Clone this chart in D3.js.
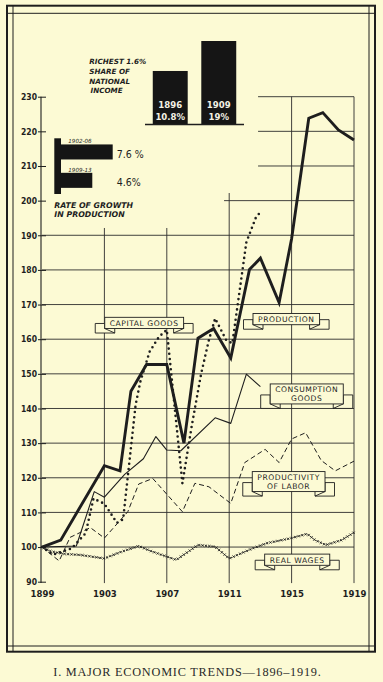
<!DOCTYPE html>
<html><head><meta charset="utf-8">
<script src="https://cdn.jsdelivr.net/npm/d3@7"></script>
<style>
html,body{margin:0;padding:0;background:#fcfad4;}
svg{display:block;}
</style></head><body>
<svg id="c" width="383" height="682"></svg>
<script>
// ---------- DATA ----------
const productionYears = [1899, 1900.2, 1903, 1904, 1904.7, 1905.7, 1907, 1908.1, 1909, 1910, 1911.1, 1912.3, 1913, 1914.2, 1915, 1916.1, 1917, 1918, 1919];
const productionValues = [100, 102, 123.5, 122, 145, 152.7, 152.7, 130, 160.3, 163.1, 154.6, 180.1, 183.4, 170.6, 189, 223.8, 225.4, 220.4, 217.5];

const capitalYears = [1899, 1899.7, 1900.9, 1901.8, 1902.3, 1903, 1903.8, 1904.2, 1905, 1905.3, 1905.9, 1906.5, 1907, 1908, 1908.6, 1909.2, 1909.7, 1910.1, 1910.8, 1911.2, 1912.1, 1912.7, 1913.1];
const capitalValues = [100, 97.8, 99.6, 104, 114, 112.5, 107, 108, 141, 147.7, 156.4, 160.7, 162.7, 118.4, 135, 150, 159.8, 166, 159.8, 158.8, 188, 195, 197.3];

const consumptionYears = [1899, 1901.2, 1902.35, 1903, 1904.3, 1905.5, 1906.3, 1907, 1907.9, 1910.1, 1911.1, 1912.1, 1913];
const consumptionValues = [100, 100.3, 116, 114.4, 121, 125.5, 131.9, 128, 127.8, 137.3, 135.7, 149.9, 146.3];

const productivityYears = [1899, 1900.1, 1900.8, 1902.1, 1903, 1904.5, 1905.2, 1906.1, 1908, 1908.8, 1909.7, 1911.1, 1912, 1913.3, 1914.2, 1915, 1915.9, 1916.9, 1917.8, 1919];
const productivityValues = [100, 96, 102.8, 105.6, 102.6, 110.2, 118.2, 119.8, 110.2, 118.4, 117.4, 112.6, 124.4, 128.2, 124.4, 131.2, 133, 125, 122, 124.8];

const wagesYears = [1899, 1899.6, 1900.5, 1901.5, 1903, 1904, 1905.2, 1906, 1906.7, 1907.6, 1909, 1910.1, 1911, 1912.5, 1913.4, 1914.9, 1916, 1916.5, 1917.2, 1918.2, 1919];
const wagesValues = [100, 98.7, 98, 97.7, 96.7, 98.5, 100.3, 98.8, 97.7, 96.3, 100.6, 100.1, 96.7, 99.6, 101.1, 102.5, 103.8, 102, 100.6, 102, 104.2];

const yTicks = [90, 100, 110, 120, 130, 140, 150, 160, 170, 180, 190, 200, 210, 220, 230];
const xTicks = [1899, 1903, 1907, 1911, 1915, 1919];

const shareYears = ["1896", "1909"];
const shareValues = [10.8, 19];
const shareLabels = ["10.8%", "19%"];

const growthPeriods = ["1902-06", "1909-13"];
const growthValues = [7.6, 4.6];
const growthLabels = ["7.6 %", "4.6%"];

const seriesLabels = [
  {lines: ["CAPITAL GOODS"], year: 1905.55, value: 164.7},
  {lines: ["PRODUCTION"], year: 1914.66, value: 165.8},
  {lines: ["CONSUMPTION", "GOODS"], year: 1915.97, value: 144.2},
  {lines: ["PRODUCTIVITY", "OF LABOR"], year: 1914.81, value: 118.9},
  {lines: ["REAL WAGES"], year: 1915.36, value: 96.35}
];
const captionText = "I.  MAJOR ECONOMIC TRENDS\u20141896\u20131919.";

// ---------- DRAWING ----------
const ink = "#1e1e1e";
const bg = "#fcfad4";
const svg = d3.select("#c");
svg.append("rect").attr("width", 383).attr("height", 682).attr("fill", bg);

// frame
svg.append("rect").attr("x", 7).attr("y", 5.7).attr("width", 368).attr("height", 646)
  .attr("fill", "none").attr("stroke", ink).attr("stroke-width", 2);
const fr = svg.append("g").attr("stroke", ink).attr("stroke-width", 1);
fr.append("line").attr("x1", 7).attr("x2", 375).attr("y1", 13.3).attr("y2", 13.3);
fr.append("line").attr("x1", 7).attr("x2", 375).attr("y1", 646).attr("y2", 646);
fr.append("line").attr("x1", 13).attr("x2", 13).attr("y1", 5.7).attr("y2", 651.7);
fr.append("line").attr("x1", 369).attr("x2", 369).attr("y1", 5.7).attr("y2", 651.7);

const x = d3.scaleLinear().domain([1899, 1919]).range([42, 354]);
const y = d3.scaleLinear().domain([90, 230]).range([581.7, 96.7]);
const yBottom = y(89.6);

// grid
const grid = svg.append("g").attr("stroke", "#2c2c2c").attr("stroke-width", 0.9);
function hStart(v) { return v <= 190 ? 1899 : (v === 200 ? 1910.67 : 1912.85); }
yTicks.filter(v => v >= 100).forEach(v => {
  grid.append("line").attr("x1", x(hStart(v))).attr("x2", x(1919))
    .attr("y1", y(v)).attr("y2", y(v));
});
function vTop(yr) { return yr <= 1907 ? 192.1 : (yr === 1911 ? 202.2 : 230); }
xTicks.filter(t => t > 1899).forEach(t => {
  grid.append("line").attr("x1", x(t)).attr("x2", x(t))
    .attr("y1", y(vTop(t))).attr("y2", yBottom);
});

// y axis
svg.append("line").attr("x1", x(1899) - 1).attr("x2", x(1899) - 1)
  .attr("y1", y(230)).attr("y2", yBottom).attr("stroke", ink).attr("stroke-width", 1.1);
const yAxis = svg.append("g").attr("transform", `translate(${x(1899) - 1},0)`)
  .call(d3.axisLeft(y).tickValues(yTicks).tickSizeInner(3).tickSizeOuter(0).tickPadding(1)
    .tickFormat(d3.format("d")));
yAxis.select(".domain").remove();
yAxis.selectAll(".tick line").attr("stroke", ink);
yAxis.selectAll(".tick").append("line").attr("x1", 0).attr("x2", 5).attr("stroke", ink);
yAxis.selectAll("text").attr("fill", ink)
  .style("font-family", "'Liberation Sans Narrow','DejaVu Sans Condensed','Liberation Sans',sans-serif")
  .style("font-size", "8.5px").style("font-weight", "bold");

const xAxis = svg.append("g").attr("transform", `translate(0,${yBottom})`)
  .call(d3.axisBottom(x).tickValues(xTicks).tickSize(0).tickPadding(7.5).tickFormat(d3.format("d")));
xAxis.select(".domain").remove();
xAxis.selectAll("text").attr("fill", ink)
  .style("font-family", "'Liberation Sans Narrow','DejaVu Sans Condensed','Liberation Sans',sans-serif")
  .style("font-size", "9.5px").style("font-weight", "bold");

// series
const line = d3.line().x(d => x(d[0])).y(d => y(d[1]));
const zip = (a, b) => a.map((v, i) => [v, b[i]]);

// real wages: thin dashed path with small crosses
const wPath = svg.append("path").datum(zip(wagesYears, wagesValues)).attr("d", line)
  .attr("fill", "none").attr("stroke", ink).attr("stroke-width", 0.8).attr("stroke-dasharray", "1.5,1.5");
{
  const node = wPath.node(), L = node.getTotalLength();
  const cg = svg.append("g").attr("stroke", ink).attr("stroke-width", 0.8);
  for (let s = 2; s < L; s += 3.6) {
    const p = node.getPointAtLength(s);
    cg.append("path").attr("d", `M${p.x - 1.2},${p.y - 1.2}L${p.x + 1.2},${p.y + 1.2}M${p.x - 1.2},${p.y + 1.2}L${p.x + 1.2},${p.y - 1.2}`);
  }
}

svg.append("path").datum(zip(productivityYears, productivityValues)).attr("d", line)
  .attr("fill", "none").attr("stroke", ink).attr("stroke-width", 1).attr("stroke-dasharray", "5,3");

svg.append("path").datum(zip(consumptionYears, consumptionValues)).attr("d", line)
  .attr("fill", "none").attr("stroke", ink).attr("stroke-width", 1.1).attr("stroke-linejoin", "round");

svg.append("path").datum(zip(capitalYears, capitalValues)).attr("d", line)
  .attr("fill", "none").attr("stroke", ink).attr("stroke-width", 2.6)
  .attr("stroke-dasharray", "0,5.2").attr("stroke-linecap", "round");

svg.append("path").datum(zip(productionYears, productionValues)).attr("d", line)
  .attr("fill", "none").attr("stroke", ink).attr("stroke-width", 2.9).attr("stroke-linejoin", "miter");

// ribbon labels
const labelFont = "'DejaVu Sans',sans-serif";
seriesLabels.forEach(lb => {
  const g = svg.append("g");
  const fs = 7.6;
  const tmp = g.append("g");
  const texts = lb.lines.map((t, i) => tmp.append("text").text(t)
    .style("font-family", labelFont).style("font-size", fs + "px").style("letter-spacing", "0.55px")
    .attr("fill", ink));
  const tw = d3.max(texts, t => t.node().getComputedTextLength());
  const w = tw + 10, h = lb.lines.length === 1 ? 11.2 : 20;
  const cx = x(lb.year), cy = y(lb.value);
  const x0 = cx - w / 2, x1 = cx + w / 2, y0 = cy - h / 2, y1 = cy + h / 2;
  const a = h * 0.55, tail = 9.5, b = 4.5, f = 10;
  const tails = g.insert("g", ":first-child").attr("fill", bg).attr("stroke", ink).attr("stroke-width", 0.9);
  tails.append("path").attr("d", `M${x0},${y0 + a}H${x0 - tail}V${y1 + b}H${x0 + f}L${x0},${y1}Z`);
  tails.append("path").attr("d", `M${x0 + f},${y1 + b}V${y1}`);
  tails.append("path").attr("d", `M${x1},${y0 + a}H${x1 + tail}V${y1 + b}H${x1 - f}L${x1},${y1}Z`);
  tails.append("path").attr("d", `M${x1 - f},${y1 + b}V${y1}`);
  g.insert("rect", "g:last-child").attr("x", x0).attr("y", y0).attr("width", w).attr("height", h)
    .attr("fill", bg).attr("stroke", ink).attr("stroke-width", 0.9);
  tmp.raise();
  texts.forEach((t, i) => {
    t.attr("x", cx).attr("text-anchor", "middle")
      .attr("y", lb.lines.length === 1 ? cy + 2.8 : cy - 1.8 + i * 9.2);
  });
});

// ---------- inset: richest 1.6% share ----------
const hand = "'DejaVu Sans',sans-serif";
const shareX = d3.scaleBand().domain(shareYears).range([145, 244]).paddingInner(0.28).paddingOuter(0.16);
const shareY = d3.scaleLinear().domain([-3.7, 19]).range([124, 41]);
svg.append("g").selectAll("rect").data(shareYears).join("rect")
  .attr("x", d => shareX(d)).attr("width", shareX.bandwidth())
  .attr("y", (d, i) => shareY(shareValues[i])).attr("height", (d, i) => shareY(-3.7) - shareY(shareValues[i]))
  .attr("fill", "#151515");
svg.append("line").attr("x1", 145).attr("x2", 244).attr("y1", 124.5).attr("y2", 124.5)
  .attr("stroke", ink).attr("stroke-width", 1.4);
shareYears.forEach((d, i) => {
  const cx = shareX(d) + shareX.bandwidth() / 2;
  [d, shareLabels[i]].forEach((t, j) => svg.append("text").text(t)
    .attr("x", cx).attr("y", 108.3 + j * 11.5).attr("text-anchor", "middle")
    .attr("fill", "#f4f1e4").style("font-family", "'Liberation Sans Narrow','DejaVu Sans Condensed',sans-serif")
    .style("font-size", "9.5px").style("font-weight", "bold"));
});
["RICHEST 1.6%", "SHARE OF", "NATIONAL", "INCOME"].forEach((t, i) => {
  svg.append("text").text(t).attr("x", i === 3 ? 90.5 : 89.3).attr("y", [64, 73.5, 83.5, 93.3][i])
    .attr("fill", ink).style("font-family", hand).style("font-size", "7.2px")
    .style("font-style", "italic").style("font-weight", "bold");
});

// ---------- inset: rate of growth ----------
const gX = d3.scaleLinear().domain([0, 7.6]).range([61, 112.7]);
const gY = d3.scaleBand().domain(growthPeriods).range([138.3, 194]).paddingInner(0.47).paddingOuter(0.216);
svg.append("rect").attr("x", 54.3).attr("y", 138.3).attr("width", gX(0) - 54.3).attr("height", 194 - 138.3).attr("fill", "#151515");
svg.append("g").selectAll("rect").data(growthPeriods).join("rect")
  .attr("x", gX(0) - 1).attr("y", d => gY(d)).attr("height", gY.bandwidth())
  .attr("width", (d, i) => gX(growthValues[i]) - gX(0) + 1).attr("fill", "#151515");
growthPeriods.forEach((d, i) => {
  svg.append("text").text(d).attr("x", 68.3).attr("y", gY(d) - 1.3)
    .attr("fill", ink).style("font-family", hand).style("font-size", "5.6px").style("font-style", "italic");
  svg.append("text").text(growthLabels[i]).attr("x", 116.7).attr("y", gY(d) + gY.bandwidth() - 1.5)
    .attr("fill", ink).style("font-family", "'Liberation Sans Narrow','DejaVu Sans Condensed',sans-serif")
    .style("font-size", "10.5px");
});
["RATE OF GROWTH", "IN PRODUCTION"].forEach((t, i) => {
  svg.append("text").text(t).attr("x", 54.3).attr("y", 207.5 + i * 9)
    .attr("fill", ink).style("font-family", hand).style("font-size", "7.8px")
    .style("font-style", "italic").style("font-weight", "bold");
});

// caption
svg.append("text").text(captionText).attr("x", 187.4).attr("y", 675.5).attr("text-anchor", "middle")
  .attr("fill", "#2a2a2a").style("font-family", "'Liberation Serif','DejaVu Serif',serif")
  .style("font-size", "12.3px").style("letter-spacing", "0.75px");
</script>
</body></html>
